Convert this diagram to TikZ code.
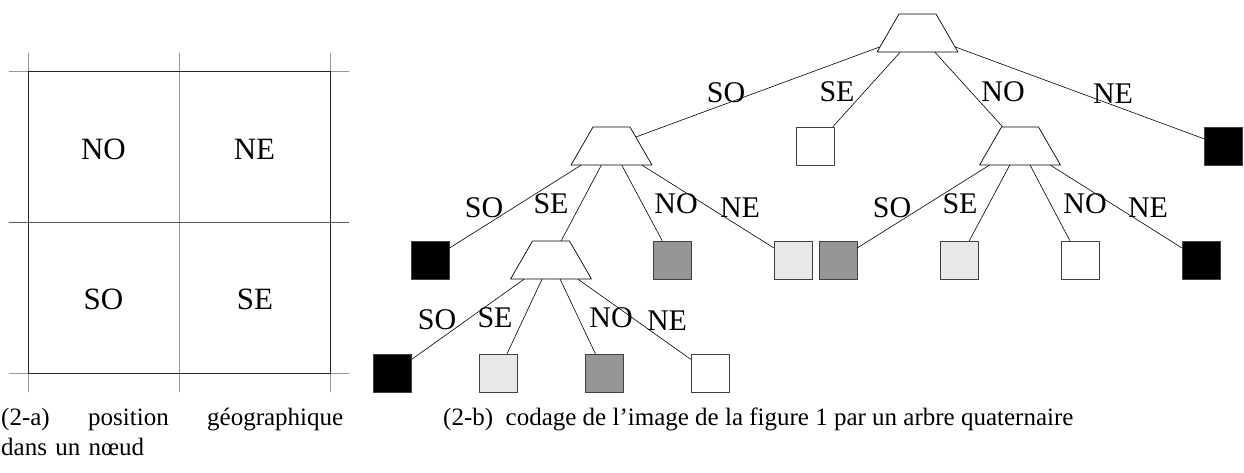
\documentclass[tikz,border=0pt]{standalone}
\usepackage{fontspec}
\setmainfont{Liberation Serif}
\usetikzlibrary{shapes.geometric}
\definecolor{qtGray}{RGB}{150,150,150}
\definecolor{qtLight}{RGB}{232,232,232}

\begin{document}
\begin{tikzpicture}[x=1pt, y=-1pt, line cap=round, line join=round,
    knot/.style={trapezium, trapezium angle=60, inner xsep=18.5pt, inner ysep=19pt,
        draw, line width=0.7pt},
    leaf/.style={rectangle, minimum size=38pt, inner sep=0pt, draw=black!75, line width=0.7pt, fill=#1},
    leaf/.default=white,
    edge/.style={line width=0.6pt},
    lbl/.style={anchor=base, inner sep=0pt, font=\fontsize{30}{36}\selectfont},
    quad/.style={inner sep=0pt, font=\fontsize{31}{37}\selectfont},
    caption/.style={inner sep=0pt, font=\fontsize{25}{30}\selectfont}]
    \useasboundingbox (0,0) rectangle (1244,473);

    % (2-a) grid of the four quadrants
    \draw[black!40, line width=0.6pt] (28,53) -- (28,392) (179,53) -- (179,392) (330,53) -- (330,392);
    \draw[black!40, line width=0.6pt] (9,71) -- (349,71) (9,373) -- (349,373);
    \draw[black!65, line width=0.6pt] (9,222) -- (349,222);
    \draw[black!85, line width=0.8pt] (28,71) rectangle (330,373);
    \node[quad] (gNO) at (103.5,149) {NO};
    \node[quad] (gNE) at (254.5,149) {NE};
    \node[quad] (gSO) at (103.5,299.5) {SO};
    \node[quad] (gSE) at (255,299.5) {SE};

    % (2-b) quaternary tree
    \node[knot] (q) at (917.5,33) {};
    \node[knot] (qSO) at (611.5,146) {};
    \node[leaf] (qSE) at (815.5,146) {};
    \node[knot] (qNO) at (1020,146) {};
    \node[leaf=black] (qNE) at (1223.5,146) {};

    \node[leaf=black] (qSOSO) at (430.5,260) {};
    \node[knot] (qSOSE) at (551,260) {};
    \node[leaf=qtGray] (qSONO) at (672.5,260) {};
    \node[leaf=qtLight] (qSONE) at (793,260) {};

    \node[leaf=qtGray] (qNOSO) at (838,260) {};
    \node[leaf=qtLight] (qNOSE) at (959,260) {};
    \node[leaf] (qNONO) at (1080,260) {};
    \node[leaf=black] (qNONE) at (1201,260) {};

    \node[leaf=black] (qSOSESO) at (392.5,373) {};
    \node[leaf=qtLight] (qSOSESE) at (498,373) {};
    \node[leaf=qtGray] (qSOSENO) at (604.5,373) {};
    \node[leaf] (qSOSENE) at (710,373) {};

    \foreach \p in {q, qSO, qNO, qSOSE}
        \foreach \c in {SO, SE, NO, NE}
            \draw[edge] (\p) -- (\p\c);

    % edge labels
    \foreach \t/\x/\y [count=\i] in {SO/726/103, SE/837/102, NO/1003/102, NE/1113/104,
            SO/484/218, SE/551/213, NO/676/213, NE/740/217,
            SO/892/218, SE/960/213, NO/1085/213, NE/1148/217,
            SO/437/329, SE/495/327, NO/611/327, NE/667/330}
        \node[lbl] (lab\i) at (\x,\y) {\t};

    % captions
    \node[caption, anchor=base west, text width=342pt, align=left] (capA) at (1,425)
        {(2-a)\hfill position\hfill géographique\\dans un nœud};
    \node[caption, anchor=base west] (capB) at (443,425)
        {(2-b)\ \ codage de l’image de la figure 1 par un arbre quaternaire};
\end{tikzpicture}
\end{document}
